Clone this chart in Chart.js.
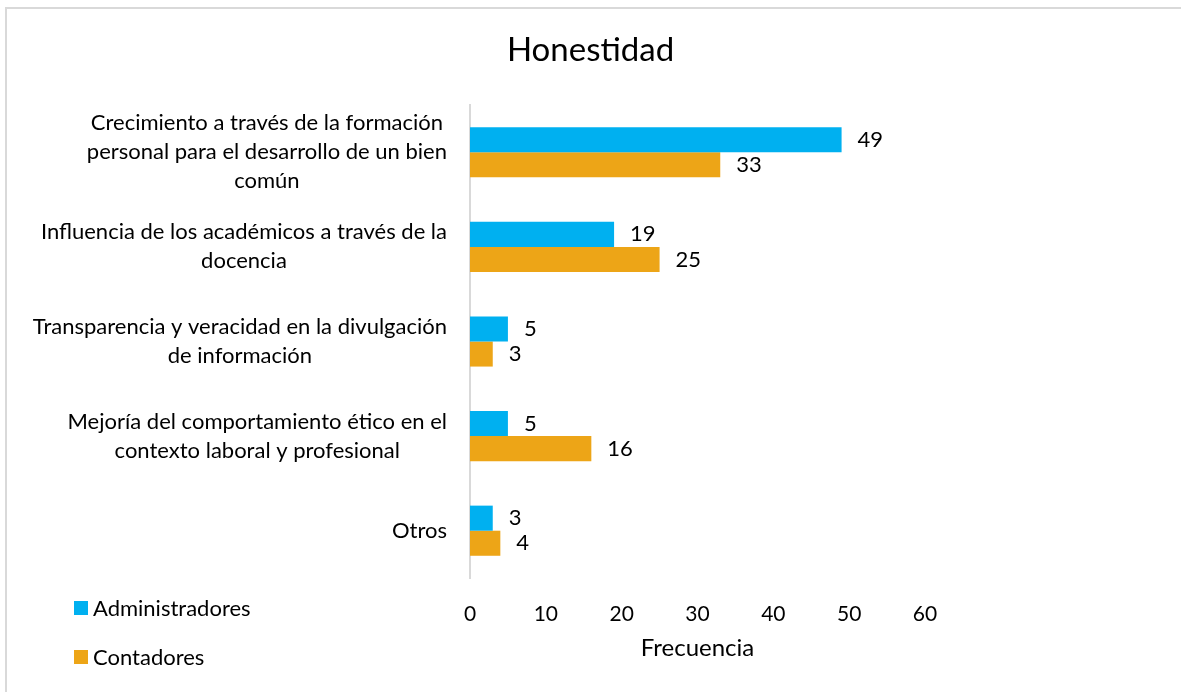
<!DOCTYPE html>
<html>
<head>
<meta charset="utf-8">
<script src="https://cdn.jsdelivr.net/npm/chart.js@4"></script>
<style>
  html, body { margin: 0; padding: 0; background: #fff; }
  #marco { position: absolute; left: 5px; top: 7px; width: 1200px; height: 700px; border-top: 2px solid #d9d9d9; border-left: 2px solid #d9d9d9; }
  #wrap { position: absolute; left: 0; top: 0; width: 1181px; height: 692px; }
  .leyenda { position: absolute; left: 74px; font: 22px Lato, sans-serif; color: #000; display: flex; align-items: center; }
  .leyenda span { display: inline-block; width: 14px; height: 14px; margin-right: 5px; }
</style>
</head>
<body>
<div id="marco"></div>
<div id="wrap"><canvas id="honestidadCanvas" width="1181" height="692"></canvas></div>
<div class="leyenda" style="top:594px"><span style="background:#00B0F0"></span>Administradores</div>
<div class="leyenda" style="top:643px"><span style="background:#EDA517"></span>Contadores</div>
<script>
const titulo = 'Honestidad';
const categorias = [
    ['Crecimiento a través de la formación', 'personal para el desarrollo de un bien', 'común'],
    ['Influencia de los académicos a través de la', 'docencia'],
    ['Transparencia y veracidad en la divulgación', 'de información'],
    ['Mejoría del comportamiento ético en el', 'contexto laboral y profesional'],
    ['Otros']
];
const administradores = [49, 19, 5, 5, 3];
const contadores = [33, 25, 3, 16, 4];
const ticksX = [0, 10, 20, 30, 40, 50, 60];

const fuente = 'Lato, sans-serif';

// titulo centrado sobre todo el lienzo, no solo sobre el area del grafico
const tituloCentrado = {
    id: 'tituloCentrado',
    afterDraw(chart) {
        const ctx = chart.ctx;
        ctx.save();
        ctx.font = '33px ' + fuente;
        ctx.fillStyle = '#000';
        ctx.textAlign = 'center';
        ctx.textBaseline = 'middle';
        ctx.fillText(titulo, chart.width / 2, 50);
        ctx.restore();
    }
};

// etiquetas de categoria centradas por bloque, como en Excel
const etiquetasY = {
    id: 'etiquetasY',
    afterDraw(chart) {
        const ctx = chart.ctx;
        const escalaY = chart.scales.y;
        ctx.save();
        ctx.font = '22px ' + fuente;
        ctx.fillStyle = '#000';
        ctx.textAlign = 'center';
        ctx.textBaseline = 'middle';
        categorias.forEach((lineas, i) => {
            const cy = escalaY.getPixelForValue(i);
            const ancho = Math.max(...lineas.map(l => ctx.measureText(l).width));
            const cx = chart.chartArea.left - 23 - ancho / 2;
            lineas.forEach((l, j) => ctx.fillText(l, cx, cy + (j - (lineas.length - 1) / 2) * 29));
        });
        ctx.restore();
    }
};

const valoresBarras = {
    id: 'valoresBarras',
    afterDatasetsDraw(chart) {
        const ctx = chart.ctx;
        ctx.save();
        ctx.font = '22px ' + fuente;
        ctx.fillStyle = '#000';
        ctx.textAlign = 'left';
        ctx.textBaseline = 'middle';
        chart.data.datasets.forEach((ds, d) => {
            chart.getDatasetMeta(d).data.forEach((barra, i) => {
                ctx.fillText(String(ds.data[i]), barra.x + 16, barra.y);
            });
        });
        ctx.restore();
    }
};

const ctx = document.getElementById('honestidadCanvas').getContext('2d');
new Chart(ctx, {
    type: 'bar',
    data: {
        labels: categorias.map(c => c.join(' ')),
        datasets: [
            { label: 'Administradores', data: administradores, backgroundColor: '#00B0F0', categoryPercentage: 0.53, barPercentage: 1.0 },
            { label: 'Contadores', data: contadores, backgroundColor: '#EDA517', categoryPercentage: 0.53, barPercentage: 1.0 }
        ]
    },
    options: {
        indexAxis: 'y',
        responsive: false,
        animation: false,
        layout: { padding: { left: 0, right: 256, top: 105, bottom: 0 } },
        plugins: {
            legend: { display: false },
            tooltip: { enabled: false },
            title: { display: false }
        },
        scales: {
            x: {
                min: 0,
                max: 60,
                afterBuildTicks: s => { s.ticks = ticksX.map(v => ({ value: v })); },
                afterFit: s => { s.height = 114; },
                grid: { display: false, drawTicks: false },
                border: { display: false },
                ticks: { color: '#000', padding: 24, font: { family: fuente, size: 21 } },
                title: { display: true, text: 'Frecuencia', color: '#000', font: { family: fuente, size: 24 }, padding: { top: 0, bottom: 29 } }
            },
            y: {
                afterFit: s => { s.width = 470; },
                grid: { display: false, drawTicks: false },
                border: { display: true, color: '#d9d9d9', width: 2 },
                ticks: { display: false }
            }
        }
    },
    plugins: [tituloCentrado, etiquetasY, valoresBarras]
});
</script>
</body>
</html>
